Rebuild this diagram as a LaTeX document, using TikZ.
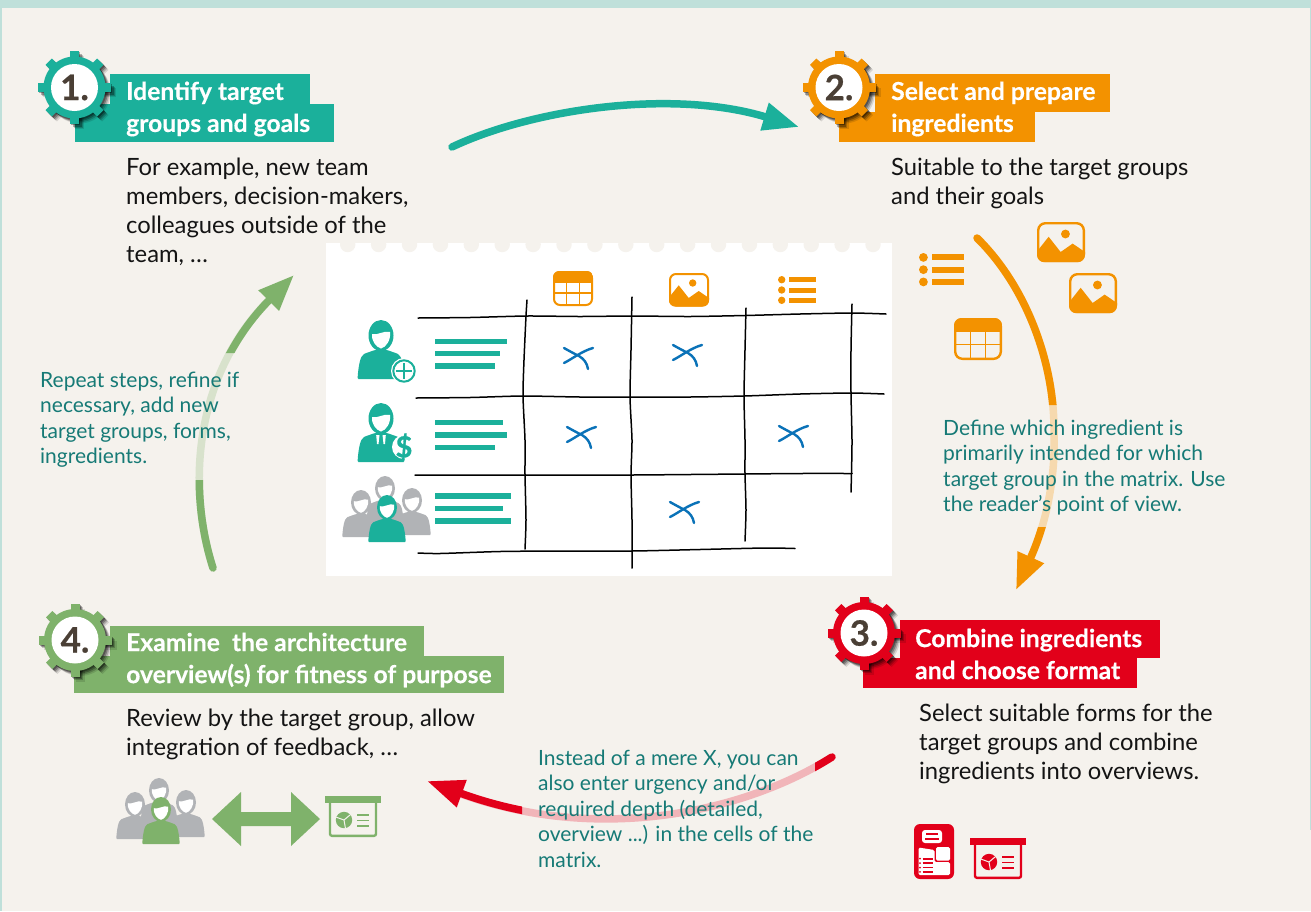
\documentclass[tikz,border=0pt]{standalone}
\usepackage{fontspec}
\setmainfont{Lato}
\usetikzlibrary{arrows.meta}
\definecolor{bgc}{HTML}{F5F2ED}
\definecolor{bandc}{HTML}{BFE0DA}
\definecolor{tealc}{HTML}{1BB09B}
\definecolor{orangec}{HTML}{F39200}
\definecolor{redc}{HTML}{E2001A}
\definecolor{greenc}{HTML}{7FB26B}
\definecolor{captionc}{HTML}{167A76}
\definecolor{grayc}{HTML}{B1B3B6}
\definecolor{crossc}{HTML}{0A72B8}
\definecolor{fadeorange}{HTML}{F6D9AE}
\definecolor{fadegreen}{HTML}{D8E2CC}
\definecolor{fadered}{HTML}{F1B5B9}
\definecolor{numc}{HTML}{4A3F35}
\tikzset{
  headtext/.style={inner sep=0pt,anchor=west,align=left,text=white,font=\fontsize{24.7}{32}\selectfont\bfseries\addfontfeature{FakeBold=0.3}},
  bodytext/.style={inner sep=0pt,anchor=north west,align=left,text=black!92,font=\fontsize{23.8}{29}\selectfont},
  captext/.style={inner sep=0pt,anchor=north west,align=left,text=captionc,font=\fontsize{21}{25.6}\selectfont},
  flow/.style={line width=7.5pt,line cap=round},
  sketch/.style={black,line width=1.5pt,line cap=round},
  crossline/.style={crossc,line width=2.4pt,line cap=round},
  barline/.style={tealc,line width=5.2pt},
}
\newcommand\gearmark[5]{% name x y colour number
  \begin{scope}[shift={(#2,#3)}]
    \foreach \o/\w in {5/.12,3.8/.2,2.6/.28,1.4/.32}{
      \begin{scope}[shift={(\o,\o)},opacity=\w]
        \fill[black] (0,0) circle[radius=31];
        \foreach \a in {0,45,...,315}{\fill[black,rotate=\a] (-4.5,-36.5) rectangle (4.5,0);}
      \end{scope}}
    \fill[#4] (0,0) circle[radius=31];
    \foreach \a in {0,45,...,315}{\fill[#4,rotate=\a] (-4.5,-36.5) rectangle (4.5,0);}
  \end{scope}
  \node[circle,fill=white,minimum size=47pt,inner sep=0pt,text=numc,font=\fontsize{35}{35}\selectfont\bfseries\addfontfeature{FakeBold=0.5}] (#1) at (#2,#3) {#5};
}
\newcommand\personicon[5]{% x y scale body face
  \begin{scope}[shift={(#1,#2)},scale=#3]
    \fill[#4,rounded corners=1pt] (-23.5,44) .. controls (-22.5,31) and (-21,21) .. (-16,18.5) -- (-6,15) -- (6,15) -- (16,18.5) .. controls (21,21) and (22.5,31) .. (23.5,44) -- cycle;
    \fill[#4] (0,0.5) ellipse[x radius=12.5,y radius=15.5];
    \fill[#5] (-9,-1) .. controls (-4,1) and (3,-5) .. (9,-3) .. controls (10,5) and (5,12.5) .. (0,13.5) .. controls (-5,12.5) and (-10,5) .. cycle;
  \end{scope}
}
\newcommand\groupicon[3]{% x y front colour (x,y = front head)
  \personicon{#1-2}{#2-19}{.8}{grayc}{white}
  \personicon{#1-26}{#2-5}{.8}{grayc}{white}
  \personicon{#1+25}{#2-7}{.8}{grayc}{white}
  \personicon{#1}{#2}{.8}{#3}{white}
}
\newcommand\tableicon[3]{% x y scale (40x35)
  \begin{scope}[shift={(#1,#2)},scale=#3]
    \begin{scope}
      \clip[rounded corners=#3*6pt] (0,0) rectangle (40,35);
      \fill[orangec] (0,0) rectangle (40,11.5);
    \end{scope}
    \draw[orangec,line width=#3*2pt,rounded corners=#3*6pt] (1,1) rectangle (39,34);
    \draw[orangec,line width=#3*1.1pt] (13.5,11) -- (13.5,34) (26.5,11) -- (26.5,34) (1,22) -- (39,22);
  \end{scope}
}
\newcommand\imageicon[3]{% x y scale (40x33.5)
  \begin{scope}[shift={(#1,#2)},scale=#3]
    \begin{scope}
      \clip[rounded corners=#3*6pt] (0,0) rectangle (40,33.5);
      \fill[orangec] (0,24.5) -- (9.7,12.3) -- (19.7,25) -- (29.7,18) -- (40,25) -- (40,33.5) -- (0,33.5) -- cycle;
    \end{scope}
    \draw[orangec,line width=#3*2pt,rounded corners=#3*6pt] (1,1) rectangle (39,32.5);
    \fill[orangec] (23.7,10) circle[radius=3.7];
  \end{scope}
}
\newcommand\listicon[3]{% x y scale (38x28)
  \begin{scope}[shift={(#1,#2)},scale=#3]
    \foreach \y in {3.7,14,24.3}{
      \fill[orangec] (3.7,\y) circle[radius=3.7];
      \fill[orangec] (11,\y-2.5) rectangle (38,\y+2.5);
    }
  \end{scope}
}
\newcommand\boardicon[3]{% x y colour (x,y = top left of bar)
  \begin{scope}[shift={(#1,#2)}]
    \fill[#3] (0,0) rectangle (56,7.3);
    \draw[#3,line width=2.4pt,rounded corners=2pt] (5,7) -- (5,39.8) -- (51,39.8) -- (51,7);
    \fill[#3] (19,24) circle[radius=8.2];
    \draw[bgc,line width=1pt] (19,24) -- +(80:8.5) (19,24) -- +(200:8.5) (19,24) -- +(320:8.5);
    \draw[#3,line width=1.7pt] (32,19) -- (44,19) (32,24.5) -- (44,24.5) (32,30) -- (44,30);
  \end{scope}
}
\newcommand\crossmark[2]{%
  \begin{scope}[shift={(#1,#2)}]
    \draw[crossline] (-13,-8) .. controls (-6,-4) and (-2,-2) .. (2,0) .. controls (7,3) and (10,7) .. (11,13);
    \draw[crossline] (-13,7) .. controls (-5,3) and (5,-5) .. (16,-8);
  \end{scope}
}
\newcommand\rowbars[6]{% y1 end1 y2 end2 y3 end3
  \draw[barline] (435,#1) -- (#2,#1) (435,#3) -- (#4,#3) (435,#5) -- (#6,#5);
}
\begin{document}
\begin{tikzpicture}[x=1pt,y=-1pt]
\useasboundingbox (0,0) rectangle (1311,911);
\fill[bgc] (0,0) rectangle (1311,911);
\fill[bandc] (0,0) rectangle (1311,8);
\fill[bandc] (0,0) rectangle (2,911);
\fill[bandc] (1310,0) rectangle (1311,830);

% paper with matrix
\fill[white] (326,243) rectangle (892,576);
\foreach \i in {0,...,17}{\fill[bgc] ({347.7+30.9*\i},244.5) circle[radius=7.7];}

\draw[sketch] plot[smooth,tension=.4] coordinates {(418,318) (470,317.5) (527,316) (580,316.5) (632,316) (690,316.5) (745,315.5) (800,314) (852,313) (886,314)};
\draw[sketch] plot[smooth,tension=.4] coordinates {(416,398) (470,397.5) (523,396) (580,397) (632,397) (690,397) (744,396) (800,394) (851,393) (884,394)};
\draw[sketch] plot[smooth,tension=.4] coordinates {(415,475) (470,475) (525,475) (580,475) (632,475) (690,474.5) (744,474) (800,473.5) (852,473.5)};
\draw[sketch] plot[smooth,tension=.4] coordinates {(418,553) (440,553.5) (500,551.5) (560,551) (632,551) (700,549.5) (765,548) (795,548.5)};
\draw[sketch] plot[smooth,tension=.4] coordinates {(527,300) (526,316) (524,360) (523,396) (525,440) (525,475) (526,520) (525,549)};
\draw[sketch] plot[smooth,tension=.4] coordinates {(632,297) (631,350) (630,397) (632,440) (631,475) (632,520) (632,568)};
\draw[sketch] plot[smooth,tension=.4] coordinates {(746,308) (745,350) (744,396) (745,440) (745,474) (746,510) (745,541)};
\draw[sketch] plot[smooth,tension=.4] coordinates {(852,304) (851,350) (851,393) (852,440) (851.5,473) (851,492)};

\crossmark{577}{356}
\crossmark{580}{435}
\crossmark{686}{353}
\crossmark{792}{434}
\crossmark{683}{510}

% matrix column icons
\tableicon{553}{271}{1}
\imageicon{669}{273}{1}
\listicon{778}{276}{1}

% matrix row icons
\personicon{381}{335}{1}{tealc}{white}
\fill[white] (404,371) circle[radius=13];
\draw[tealc,line width=2pt] (404,371) circle[radius=10.7];
\draw[tealc,line width=2pt] (396,371) -- (412,371) (404,363) -- (404,379);
\rowbars{341.5}{507}{353.7}{500}{366}{495}

\personicon{381}{418}{1}{tealc}{white}
\fill[white] (376.2,435) -- (379.5,435) -- (378.5,444) -- (377,444) -- cycle;
\fill[white] (385.8,435) -- (382.5,435) -- (383.5,444) -- (385,444) -- cycle;
\fill[white] (404,447) circle[radius=12];
\node[inner sep=0pt,text=tealc,font=\fontsize{29}{29}\selectfont\bfseries\addfontfeature{FakeBold=1}] (dollar) at (404,447) {\$};
\rowbars{422.7}{503}{435}{507}{447.3}{495}

\groupicon{387}{507}{tealc}
\rowbars{496}{511}{508.3}{503}{521}{511}

% loose ingredients
\listicon{919}{253}{1.19}
\imageicon{1037}{222}{1.2}
\imageicon{1069}{273}{1.2}
\tableicon{954}{318}{1.2}

% step 1
\fill[tealc] (110,74) rectangle (310,104);
\fill[tealc] (75,104) rectangle (334,142);
\gearmark{g1}{74.5}{87.5}{tealc}{1.}
\node[headtext] (h1) at (126,109) {Identify target\\groups and goals};
\node[bodytext] (b1) at (126,158) {For example, new team\\members, decision-makers,\\colleagues outside of the\\team, …};

% step 2
\fill[orangec] (875,74) rectangle (1110,112);
\fill[orangec] (839,112) rectangle (1035,142);
\gearmark{g2}{839}{87.5}{orangec}{2.}
\node[headtext] (h2) at (891,109) {Select and prepare\\ingredients};
\node[bodytext] (b2) at (891,158) {Suitable to the target groups\\and their goals};

% step 3
\fill[redc] (900,620) rectangle (1160,658);
\fill[redc] (863,658) rectangle (1137,688);
\gearmark{g3}{864}{633}{redc}{3.}
\node[headtext] (h3) at (915,654) {Combine ingredients\\and choose format};
\node[bodytext] (b3) at (919,704) {Select suitable forms for the\\target groups and combine\\ingredients into overviews.};

% step 4
\fill[greenc] (110,626) rectangle (424,656);
\fill[greenc] (74,656) rectangle (504,693);
\gearmark{g4}{75}{640}{greenc}{4.}
\node[headtext] (h4) at (126,660) {Examine\ \ the architecture\\overview(s) for fitness of purpose};
\node[bodytext] (b4) at (126,709) {Review by the target group, allow\\integration of feedback, …};

% bottom icons
\groupicon{161}{809}{greenc}
\fill[greenc] (212,819) -- (241,792) -- (241,812) -- (291,812) -- (291,792) -- (320,819) -- (291,846) -- (291,826) -- (241,826) -- (241,846) -- cycle;
\boardicon{325}{796}{greenc}
\boardicon{970}{838}{redc}
\fill[redc,rounded corners=6pt] (914,824) rectangle (954,879);
\fill[white,rounded corners=3pt] (922,830) rectangle (942,843);
\draw[redc,line width=2pt] (926,834) -- (938,834) (925,838.5) -- (939,838.5);
\fill[white,rounded corners=1.5pt] (918.5,847.5) -- (934.5,850) -- (934.5,862) -- (950,862) -- (950,875) -- (918.5,875) -- cycle;
\fill[white,rounded corners=1.5pt] (936,847) rectangle (950,860.5);
\foreach \y in {858.7,863.1,867.5,871.9}{
  \fill[redc] (920,\y) circle[radius=1];
  \draw[redc,line width=1.6pt] (922.5,\y) -- (933,\y);
}

% flow arrows
\coordinate (s1) at (452,147);
\coordinate (e1) at (799,127);
\coordinate (s2) at (977,238);
\coordinate (m2) at (1054,430);
\coordinate (e2) at (1016,590);
\coordinate (s3) at (832,757);
\coordinate (e3) at (427,781);
\coordinate (s4) at (213,568);
\coordinate (e4) at (294,275);
\draw[flow,tealc,-{Triangle[length=36pt,width=27pt]}] (s1) .. controls (530,110) and (670,88) .. (e1);

\draw[flow,fadeorange,line cap=butt] (s2) .. controls (1025,285) and (1054,360) .. (m2) .. controls (1056,480) and (1045,526) .. (1031,557);
\begin{scope}
  \clip (900,200) rectangle (1200,405) (900,527) rectangle (1200,620);
  \draw[flow,orangec,-{Triangle[length=36pt,width=27pt]}] (s2) .. controls (1025,285) and (1054,360) .. (m2) .. controls (1056,480) and (1045,526) .. (e2);
\end{scope}

\draw[flow,fadered,line cap=butt] (s3) .. controls (745,812) and (600,844) .. (461,794);
\begin{scope}
  \clip (815,700) rectangle (860,800) (400,740) rectangle (522,860);
  \draw[flow,redc,-{Triangle[length=37pt,width=27pt]}] (s3) .. controls (745,812) and (600,844) .. (e3);
\end{scope}

\draw[flow,fadegreen,line cap=butt] (s4) .. controls (185,480) and (198,372) .. (268,301);
\begin{scope}
  \clip (170,480) rectangle (260,590) (170,250) rectangle (320,353);
  \draw[flow,greenc,-{Triangle[length=36pt,width=27pt]}] (s4) .. controls (185,480) and (198,372) .. (e4);
\end{scope}

% captions
\node[captext] (c1) at (40,371.5) {Repeat steps, refine if\\necessary, add new\\target groups, forms,\\ingredients.};
\node[captext] (c2) at (943,419.5) {Define which ingredient is\\primarily intended for which\\target group in the matrix. Use\\the reader’s point of view.};
\node[captext] (c3) at (538,749.5) {Instead of a mere X, you can\\also enter urgency and/or\\required depth (detailed,\\overview ...) in the cells of the\\matrix.};
\end{tikzpicture}
\end{document}
